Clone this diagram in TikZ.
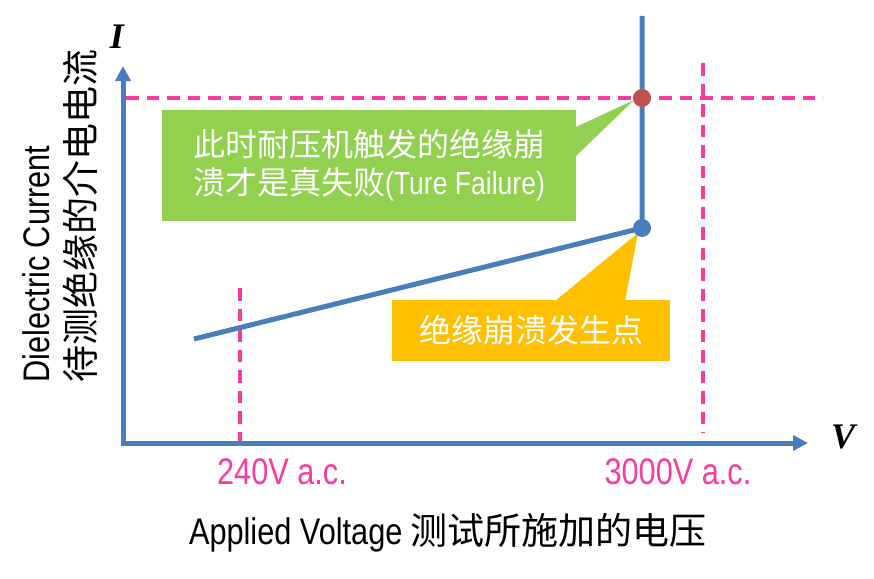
\documentclass[tikz,border=0pt]{standalone}
\usepackage{fontspec}
\setmainfont{Liberation Sans}[FakeStretch=0.83]
\newfontfamily\cjk{Noto Sans CJK SC}
\newfontfamily\tnr{Liberation Serif}
\usetikzlibrary{arrows.meta}
\definecolor{axblue}{HTML}{4A7EBB}
\definecolor{pinkd}{HTML}{FA3A9C}
\definecolor{dotred}{HTML}{C0504D}
\definecolor{callgreen}{HTML}{92D050}
\definecolor{callorange}{HTML}{FFC000}
\tikzset{
  axisline/.style={draw=axblue, line width=5pt, line join=miter},
  curveline/.style={draw=axblue, line width=5pt},
  pinkdash/.style={draw=pinkd, line width=3.2pt, dash pattern=on 12.5pt off 8pt},
  dotnode/.style={circle, inner sep=0pt, minimum size=18pt},
  callbox/.style={inner sep=0pt, text=white, font=\fontsize{32}{40}\selectfont, align=center},
  ticklabel/.style={inner sep=0pt, text=pinkd, font=\fontsize{37}{40}\selectfont},
  titlelabel/.style={inner sep=0pt, text=black, font=\fontsize{37}{40}\selectfont},
  axisletter/.style={inner sep=0pt, font=\tnr\bfseries\itshape\fontsize{36}{40}\selectfont}
}
\begin{document}
\begin{tikzpicture}[x=1pt,y=-1pt]
\useasboundingbox (0,0) rectangle (874,578);
% key points
\coordinate (O) at (123,443);
\coordinate (Ytip) at (123,66);
\coordinate (Xtip) at (808,443);
\coordinate (cstart) at (194,339);
\coordinate (ctop) at (642,16);
% dashed guide lines
\coordinate (hd1) at (126,98);
\coordinate (hd2) at (823,98);
\coordinate (vd1) at (703,63);
\coordinate (vd2) at (703,433);
\coordinate (ld1) at (240,288);
\coordinate (ld2) at (240,441);
\draw[pinkdash] (hd1) -- (hd2);
\draw[pinkdash] (vd1) -- (vd2);
\draw[pinkdash] (ld1) -- (ld2);
% axes
\draw[axisline, {Triangle[length=15pt,width=15pt]}-{Triangle[length=15pt,width=15pt]}] (Xtip) -- (O) -- (Ytip);
% callouts
\fill[callgreen] (576,127) -- (634,100) -- (576,156) -- cycle;
\node[callbox, fill=callgreen, minimum width=414pt, minimum height=111pt] (gbox) at (369,165.5)
  {{\cjk 此时耐压机触发的绝缘崩}\\[-2pt]{\cjk 溃才是真失败}(Ture Failure)};
\fill[callorange] (555,301) -- (638,233) -- (625,301) -- cycle;
\node[callbox, fill=callorange, minimum width=278pt, minimum height=61pt] (obox) at (531,330.5)
  {\cjk 绝缘崩溃发生点};
% curve
\node[dotnode] (bd) at (642,228) {};
\node[dotnode] (fail) at (642,98) {};
\draw[curveline] (cstart) -- (bd.center) -- (ctop);
\fill[axblue] (bd) circle (9pt);
\fill[dotred] (fail) circle (9pt);
% labels
\node[axisletter] (ilab) at (117,37) {I};
\node[axisletter] (vlab) at (843,437) {V};
\node[ticklabel] (t240) at (282,472) {240V a.c.};
\node[ticklabel] (t3000) at (678,472) {3000V a.c.};
\node[titlelabel] (xtitle) at (448,533) {Applied Voltage {\cjk 测试所施加的电压}};
\node[titlelabel, rotate=90, anchor=west] (ytitle1) at (36,383) {Dielectric Current};
\node[titlelabel, rotate=90, anchor=west] (ytitle2) at (80,383) {\cjk 待测绝缘的介电电流};
\end{tikzpicture}
\end{document}
